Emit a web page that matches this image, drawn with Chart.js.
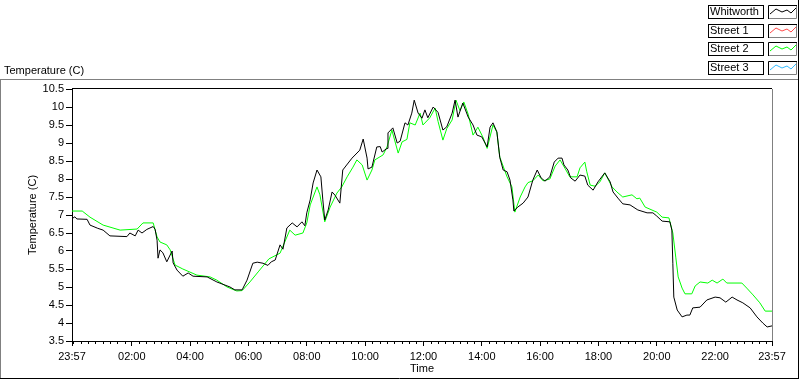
<!DOCTYPE html>
<html>
<head>
<meta charset="utf-8">
<script src="https://cdn.jsdelivr.net/npm/chart.js@4.4.1/dist/chart.umd.min.js"></script>
<style>
  html, body { margin: 0; padding: 0; background: #fff; }
  #wrap { position: relative; width: 800px; height: 380px; }
</style>
</head>
<body>
<div id="wrap"><canvas id="c" width="800" height="380"></canvas></div>
<script>
// ---- DATA (minutes elapsed since 23:57, temperature in C) ----
const seriesNames = ['Whitworth', 'Street 1', 'Street 2', 'Street 3'];

const whitworthMin = [0, 6, 10, 31, 37, 53, 64, 78, 113, 119, 130, 136, 144, 154, 167, 171, 175, 177, 181, 187, 195, 206, 208, 216, 228, 239, 249, 278, 298, 325, 335, 350, 360, 372, 381, 393, 403, 410, 418, 428, 434, 442, 453, 463, 473, 479, 483, 490, 496, 504, 512, 516, 520, 527, 535, 541, 551, 557, 576, 592, 599, 607, 609, 617, 627, 634, 638, 648, 650, 660, 669, 675, 685, 691, 699, 704, 712, 720, 726, 732, 743, 753, 763, 771, 782, 788, 794, 804, 815, 825, 833, 843, 854, 860, 866, 874, 880, 887, 895, 901, 907, 909, 917, 928, 938, 948, 957, 965, 973, 983, 992, 1000, 1008, 1012, 1020, 1026, 1035, 1045, 1055, 1061, 1072, 1082, 1096, 1107, 1113, 1123, 1133, 1148, 1164, 1183, 1195, 1203, 1214, 1230, 1234, 1236, 1238, 1245, 1255, 1265, 1271, 1277, 1292, 1306, 1323, 1333, 1345, 1358, 1368, 1380, 1395, 1409, 1421, 1430, 1440];
const whitworthTemp = [6.9, 6.95, 6.89, 6.88, 6.72, 6.63, 6.58, 6.42, 6.4, 6.5, 6.42, 6.58, 6.5, 6.6, 6.68, 6.6, 6.3, 5.8, 6.03, 5.95, 5.7, 6.0, 5.67, 5.47, 5.3, 5.39, 5.3, 5.28, 5.14, 5.0, 4.92, 4.92, 5.19, 5.66, 5.69, 5.66, 5.6, 5.7, 5.75, 6.17, 6.05, 6.64, 6.78, 6.67, 6.81, 6.7, 7.06, 7.42, 7.89, 8.25, 8.06, 7.42, 6.86, 7.14, 7.64, 7.55, 7.33, 8.25, 8.58, 8.8, 9.11, 8.58, 8.28, 8.33, 8.89, 8.9, 8.75, 8.85, 9.28, 9.42, 9.0, 9.05, 9.56, 9.5, 9.83, 10.19, 9.83, 9.69, 9.92, 9.7, 10.0, 9.85, 9.36, 9.45, 9.83, 10.19, 9.72, 10.11, 9.72, 9.5, 9.22, 9.17, 8.89, 9.44, 9.56, 9.31, 8.6, 8.25, 8.2, 7.97, 7.42, 7.11, 7.22, 7.33, 7.5, 7.97, 8.25, 8.03, 7.94, 8.06, 8.47, 8.58, 8.58, 8.39, 8.25, 8.03, 7.94, 8.11, 8.08, 7.83, 7.69, 7.92, 8.17, 7.92, 7.64, 7.47, 7.31, 7.28, 7.14, 7.06, 7.06, 6.97, 6.83, 6.81, 6.58, 5.66, 4.72, 4.36, 4.17, 4.22, 4.22, 4.42, 4.44, 4.64, 4.72, 4.7, 4.58, 4.72, 4.64, 4.56, 4.42, 4.17, 4.0, 3.89, 3.92];

const street1Min = [];
const street1Temp = [];

const street2Min = [0, 21, 37, 64, 99, 134, 146, 167, 175, 181, 195, 202, 212, 228, 257, 284, 298, 319, 339, 350, 366, 383, 405, 428, 448, 459, 475, 483, 490, 504, 510, 520, 531, 545, 555, 566, 578, 586, 597, 607, 617, 623, 640, 648, 658, 671, 679, 689, 695, 706, 716, 722, 736, 747, 753, 763, 771, 782, 790, 798, 806, 815, 825, 835, 845, 854, 866, 874, 880, 895, 905, 911, 922, 932, 938, 948, 959, 969, 983, 994, 1004, 1014, 1024, 1039, 1045, 1055, 1059, 1066, 1076, 1086, 1096, 1111, 1121, 1133, 1152, 1162, 1168, 1179, 1203, 1214, 1228, 1236, 1242, 1247, 1255, 1261, 1275, 1282, 1292, 1308, 1317, 1327, 1339, 1347, 1378, 1388, 1401, 1415, 1426, 1440];
const street2Temp = [7.11, 7.11, 6.94, 6.72, 6.58, 6.61, 6.78, 6.78, 6.39, 6.25, 6.17, 6.03, 5.61, 5.5, 5.33, 5.28, 5.19, 5.0, 4.89, 4.9, 5.14, 5.42, 5.78, 5.94, 6.58, 6.44, 6.5, 6.78, 7.28, 7.78, 7.56, 6.81, 7.22, 7.61, 7.78, 8.06, 8.33, 8.53, 8.39, 7.97, 8.25, 8.53, 8.67, 8.89, 9.36, 8.72, 9.03, 9.1, 9.56, 9.5, 9.83, 9.5, 9.7, 9.97, 9.6, 9.08, 9.4, 9.64, 10.19, 9.9, 10.14, 9.8, 9.22, 9.44, 9.17, 8.85, 9.5, 9.3, 8.61, 8.06, 7.78, 7.08, 7.5, 7.78, 7.9, 7.95, 8.11, 7.95, 8.0, 8.36, 8.53, 8.3, 8.06, 8.06, 8.31, 8.47, 8.2, 7.83, 7.8, 7.92, 8.17, 7.78, 7.64, 7.5, 7.56, 7.45, 7.47, 7.22, 7.08, 6.94, 6.92, 6.5, 5.83, 5.28, 4.97, 4.81, 4.81, 5.03, 5.14, 5.11, 5.19, 5.11, 5.22, 5.11, 5.11, 4.97, 4.78, 4.56, 4.33, 4.33];

const street3Min = [];
const street3Temp = [];

const xTickLabels = ['23:57', '02:00', '04:00', '06:00', '08:00', '10:00', '12:00', '14:00', '16:00', '18:00', '20:00', '22:00', '23:57'];
const yTickLabels = ['3.5', '4', '4.5', '5', '5.5', '6', '6.5', '7', '7.5', '8', '8.5', '9', '9.5', '10', '10.5'];
const seriesColors = ['#000000', '#ff4a4a', '#00ff00', '#33bbff'];

// ---- helpers ----
const START = 23 * 60 + 57;
function labelToOffset(lbl, i) {
  if (i === xTickLabels.length - 1) return 1440;
  const [h, m] = lbl.split(':').map(Number);
  return ((h * 60 + m) - START + 1440) % 1440;
}
const xTickValues = xTickLabels.map(labelToOffset);
const yTickValues = yTickLabels.map(Number);
function pts(xs, ys) { return xs.map((x, i) => ({ x: x, y: ys[i] })); }

const FONT = { family: '"Liberation Sans", Arial, sans-serif', size: 11 };
const FONTSTR = '11px "Liberation Sans", Arial, sans-serif';

const decorPlugin = {
  id: 'decor',
  afterDraw(chart) {
    const ctx = chart.ctx;
    const ca = chart.chartArea;
    const xs = chart.scales.x;
    ctx.save();
    ctx.lineWidth = 1;
    // chart area top (black) and right (gray) borders
    ctx.strokeStyle = '#000';
    ctx.beginPath(); ctx.moveTo(ca.left, Math.round(ca.top) - 0.5); ctx.lineTo(ca.right, Math.round(ca.top) - 0.5); ctx.stroke();
    ctx.strokeStyle = '#808080';
    ctx.beginPath(); ctx.moveTo(Math.round(ca.right) + 0.5, ca.top); ctx.lineTo(Math.round(ca.right) + 0.5, ca.bottom); ctx.stroke();
    // minor ticks every 15 min
    ctx.strokeStyle = '#000';
    ctx.beginPath();
    for (let m = 3; m < 1440; m += 15) {
      if ((m - 3) % 120 === 0 && m !== 3) continue;
      const px = Math.round(xs.getPixelForValue(m)) + 0.5;
      ctx.moveTo(px, ca.bottom); ctx.lineTo(px, ca.bottom + 3);
    }
    ctx.stroke();
    // outer panel frame
    ctx.strokeStyle = '#808080';
    ctx.beginPath(); ctx.moveTo(0, 79.5); ctx.lineTo(798, 79.5); ctx.stroke();
    ctx.beginPath(); ctx.moveTo(0.5, 79); ctx.lineTo(0.5, 378); ctx.stroke();
    ctx.strokeStyle = '#000';
    ctx.beginPath(); ctx.moveTo(798.5, 0); ctx.lineTo(798.5, 379); ctx.stroke();
    ctx.beginPath(); ctx.moveTo(0, 378.5); ctx.lineTo(799, 378.5); ctx.stroke();
    // top-left label
    ctx.fillStyle = '#000';
    ctx.font = FONTSTR;
    ctx.textBaseline = 'middle';
    ctx.textAlign = 'left';
    ctx.fillText('Temperature (C)', 4, 71);
    // legend
    const rows = [5, 24, 42, 61];
    chart.data.datasets.forEach((ds, i) => {
      const y = rows[i];
      ctx.fillStyle = '#fff';
      ctx.fillRect(708, y, 55, 13);
      ctx.strokeStyle = '#000';
      ctx.strokeRect(708.5, y + 0.5, 55, 13);
      ctx.fillStyle = '#000';
      ctx.fillText(ds.label, 710, y + 7);
      // sample box
      ctx.strokeStyle = '#000';
      ctx.beginPath(); ctx.moveTo(768.5, y + 14); ctx.lineTo(768.5, y + 0.5); ctx.lineTo(797, y + 0.5); ctx.stroke();
      ctx.strokeStyle = '#808080';
      ctx.beginPath(); ctx.moveTo(796.5, y + 1); ctx.lineTo(796.5, y + 13.5); ctx.lineTo(769, y + 13.5); ctx.stroke();
      ctx.strokeStyle = ds.borderColor;
      ctx.beginPath();
      const zz = [[770, 9], [776, 4], [782, 7], [787, 5], [791, 8], [796, 3]];
      zz.forEach((p, k) => { if (k === 0) ctx.moveTo(p[0], y + p[1]); else ctx.lineTo(p[0], y + p[1]); });
      ctx.stroke();
    });
    ctx.restore();
  }
};

new Chart(document.getElementById('c'), {
  type: 'line',
  data: {
    datasets: [
      { label: seriesNames[0], data: pts(whitworthMin, whitworthTemp), borderColor: seriesColors[0] },
      { label: seriesNames[1], data: pts(street1Min, street1Temp), borderColor: seriesColors[1] },
      { label: seriesNames[2], data: pts(street2Min, street2Temp), borderColor: seriesColors[2] },
      { label: seriesNames[3], data: pts(street3Min, street3Temp), borderColor: seriesColors[3] }
    ].map(d => Object.assign(d, { borderWidth: 1, pointRadius: 0, tension: 0, fill: false }))
  },
  options: {
    responsive: false,
    animation: false,
    devicePixelRatio: 1,
    layout: { padding: { left: 0, top: 89, right: 28, bottom: 0 } },
    plugins: { legend: { display: false }, tooltip: { enabled: false } },
    scales: {
      x: {
        type: 'linear', min: 0, max: 1440,
        afterBuildTicks: s => { s.ticks = xTickValues.map(v => ({ value: v })); },
        afterFit: s => { s.height = 39; },
        grid: { drawOnChartArea: false, tickLength: 5, color: '#000' },
        border: { color: '#000' },
        ticks: { autoSkip: false, maxRotation: 0, padding: 4, font: FONT, color: '#000',
                 callback: (v, i) => xTickLabels[i] },
        title: { display: true, text: 'Time', font: FONT, color: '#000', padding: { top: 0, bottom: 4 } }
      },
      y: {
        type: 'linear', min: 3.5, max: 10.5,
        afterBuildTicks: s => { s.ticks = yTickValues.map(v => ({ value: v })); },
        afterFit: s => { s.width = 72; },
        grid: { drawOnChartArea: false, tickLength: 6, color: '#000' },
        border: { color: '#000' },
        ticks: { padding: 2, font: FONT, color: '#000', callback: (v, i) => yTickLabels[i] },
        title: { display: true, text: 'Temperature (C)', font: FONT, color: '#000', padding: { top: 26, bottom: 0 } }
      }
    }
  },
  plugins: [decorPlugin]
});
</script>
</body>
</html>
